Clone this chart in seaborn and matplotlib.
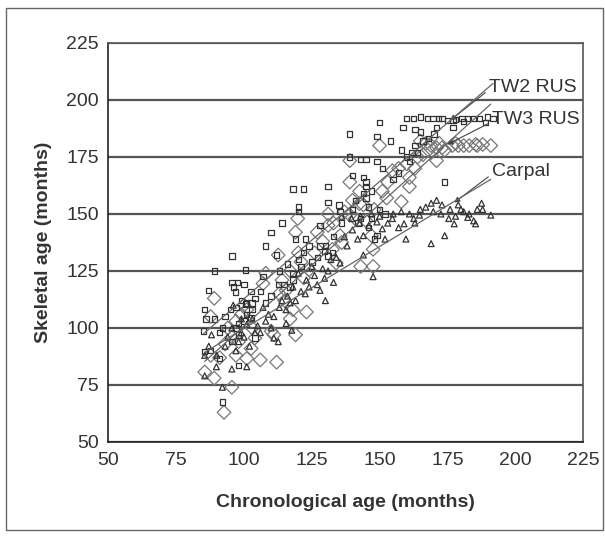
"""Skeletal age vs chronological age scatter (TW2 RUS, TW3 RUS, Carpal)."""
import numpy as np
import matplotlib
matplotlib.use('Agg')
import matplotlib.pyplot as plt
import seaborn as sns
from matplotlib.patches import Rectangle

# --- data (months) ---
tw2_x = [160, 162.6, 165, 167.6, 169.7, 171.8, 173, 178, 180.4, 182.5, 184.7, 186.8, 189.7, 191.8,
         158.6, 163, 165, 171, 170, 177, 181, 189, 175, 177,
         158, 160, 161, 163, 164, 150, 149, 154, 139,
         139, 143, 145, 149, 151, 140, 144, 145, 147, 144, 145, 145, 131, 131, 135, 135.4,
         147, 148, 149, 174, 140, 142, 146,
         118, 122, 120, 120, 114, 110, 128, 130, 108, 112, 119, 122.6, 124, 122, 128, 129.7,
         131, 132.6, 118, 118, 112.6, 114.8, 107, 110, 108,
         95.5, 89, 100.5, 95.5, 97.6, 96, 96.8, 100, 87, 102.6, 101, 103, 97, 100.5, 85.5,
         86, 102.6, 98, 97, 91, 85, 95.5, 104, 87.7, 85.5, 91, 98, 92,
         93, 95, 99, 101, 104, 92, 98, 100, 113, 116, 120, 117, 121, 125, 127, 133,
         136, 141, 143, 146, 150, 152, 155, 157, 162, 166, 168, 103, 106, 89]
tw2_y = [192, 192, 192.5, 192, 192, 192, 192, 191.5, 192, 192, 192, 192, 192.5, 192,
         188, 187, 186, 188, 185, 188, 190.5, 190, 191, 191,
         178, 175, 173, 180, 177, 190, 184, 182, 185,
         175, 174, 174, 173, 170, 167, 166, 164, 160, 159, 162, 157, 162, 155, 154, 151,
         148, 139, 140.5, 164, 152, 146, 153,
         161, 161, 153, 151, 146, 142, 145, 136, 136, 132, 139, 139, 136, 133, 136, 133.8,
         131.5, 133, 124, 121, 119, 119, 122.5, 114, 111,
         131.5, 125, 125.5, 120, 120, 118, 115.8, 119, 116.5, 116, 111, 111, 109, 110.5, 108,
         104, 104.6, 102, 100, 98, 98.6, 94, 95.6, 90, 89.6, 86.6, 83.6, 67.5,
         105, 108, 112, 106, 113, 100, 97, 103, 125, 128, 130, 118, 127, 129, 131, 140,
         146, 156, 148, 144, 152, 150, 165, 168, 177, 182, 183, 108, 116, 104]

tw3_x = [150, 154.7, 164, 167, 169, 171, 173, 176.8, 179, 181, 183, 185.4, 188, 191, 171,
         161, 161, 158, 152.6, 151, 139, 139, 144, 142.6, 142.6, 141, 139, 135.4, 136,
         132.6, 134, 131, 131, 127, 147.6, 143, 147.6, 147, 119.8, 119, 112.6, 121, 124,
         108, 107, 113, 115.5, 118, 123, 119, 111, 110, 112, 106, 101, 95.5, 92.6, 89,
         85.5, 87.7, 91, 89, 87.7, 101, 98, 102.6, 104, 95.5, 97, 165, 174, 178,
         94, 97, 99, 103, 93, 100, 114, 117, 120, 122, 126, 129, 133, 137, 140, 145,
         148, 153, 157, 160, 163, 166, 168, 172, 186, 115, 117]
tw3_y = [180, 169, 175, 181, 180, 179, 179, 180, 180, 180, 180, 180.5, 180.5, 180, 173.4,
         166, 162, 155.4, 157, 160, 173.4, 164, 154, 160, 154.5, 148, 149.5, 140.5, 137.5,
         134.5, 128.5, 145, 150, 142, 134.5, 127, 127, 140.5, 148, 142, 132, 129, 125.5,
         124, 119.5, 115, 116.5, 108, 107, 97, 97, 98.6, 85, 86, 86.6, 74, 63, 78,
         80.7, 88, 87, 113, 105, 108, 94, 91, 95.6, 96, 88, 182, 178, 181,
         100, 103, 106, 100, 93, 110, 121, 125, 133, 122, 133, 138, 146, 151, 156, 147,
         152, 164, 170, 172, 170, 176, 178, 181, 180, 112, 104]

carpal_x = [85.5, 92, 89.8, 95.5, 101, 85.5, 88, 95.5, 98, 101, 104, 106, 111, 112.6, 111,
            115.5, 117.6, 115.5, 117, 121, 124, 128, 130, 133, 135.4, 129.7, 127, 122.6, 114,
            110, 109, 144, 147.6, 141.9, 144, 146, 149, 151, 152, 154.7, 159, 159.7, 162.6,
            164.7, 167, 169, 171, 173, 169.8, 172.6, 175.5, 177.5, 179, 181, 183, 185.4,
            187.6, 191, 169, 174, 158, 182.5, 184.7, 142.6, 139.7, 136, 96, 99, 103, 93,
            107, 120, 125, 131, 137, 155, 165, 180, 186,
            94, 97, 100, 102, 99, 105, 108, 113, 116, 118, 119, 123, 126, 129, 132, 134,
            138, 140, 143, 147, 150, 153, 157, 161, 163, 176, 178, 188, 90, 87]
carpal_y = [79, 74, 83, 82, 83, 88, 97, 100, 94, 101.6, 98, 98, 95.6, 94, 105,
            102, 99, 108, 111, 116, 118, 116.5, 112, 120, 128.5, 121.8, 119, 115, 112,
            100, 106, 132, 122.5, 139, 140.5, 145, 146.5, 143.5, 139, 148, 145.7, 139, 148,
            149.5, 153, 154.7, 156, 154, 151, 150, 148, 145.7, 154, 151, 150, 145.7,
            154.7, 149.5, 137, 140.5, 151, 148.5, 147, 146, 148, 149, 110, 104, 104, 92,
            109, 124, 127, 125, 140, 150, 152, 152, 152,
            96, 90, 96, 92, 98, 101, 103, 109, 114, 118, 112, 121, 123, 126, 130, 131,
            136, 143, 149, 150, 149, 146, 144, 150, 146, 152, 149, 152, 88, 92]

x_ticks = [50, 75, 100, 125, 150, 175, 200, 225]
y_ticks = [50, 75, 100, 125, 150, 175, 200, 225]

TEXT_COL = '#333333'
GRID_COL = '#555555'

sns.set_style('white')
plt.rcParams['font.family'] = ['Liberation Sans', 'DejaVu Sans']

fig = plt.figure(figsize=(6.05, 5.36), dpi=100)
ax = fig.add_axes([0.1793, 0.1754, 0.7843, 0.7444])

# horizontal gridlines only, behind the marks
for yv in y_ticks:
    ax.axhline(yv, color=GRID_COL, lw=1.6, zorder=0)

sns.scatterplot(x=tw2_x, y=tw2_y, marker='s', s=15, facecolor='none',
                edgecolor='#333333', linewidth=0.9, ax=ax, zorder=3)
sns.scatterplot(x=tw3_x, y=tw3_y, marker='D', s=48, facecolor='none',
                edgecolor='#777777', linewidth=0.9, ax=ax, zorder=2)
sns.scatterplot(x=carpal_x, y=carpal_y, marker='^', s=18, facecolor='none',
                edgecolor='#333333', linewidth=0.9, ax=ax, zorder=3)

# linear trend lines
for xs, ys in [(tw2_x, tw2_y), (tw3_x, tw3_y), (carpal_x, carpal_y)]:
    sns.regplot(x=np.array(xs), y=np.array(ys), scatter=False, ci=None, truncate=True,
                line_kws=dict(color='#666666', lw=0.9, zorder=4), ax=ax)

arrow = dict(arrowstyle='-|>', color='#444444', lw=0.8, mutation_scale=8,
             shrinkA=0, shrinkB=0, relpos=(0, 0.35))
ax.annotate('TW2 RUS', xy=(176, 191), xytext=(190.2, 205.5), ha='left', va='center',
            fontsize=14, color=TEXT_COL, arrowprops=arrow)
ax.annotate('TW3 RUS', xy=(175, 180.5), xytext=(191.3, 191.5), ha='left', va='center',
            fontsize=14, color=TEXT_COL, arrowprops=arrow)
ax.annotate('Carpal', xy=(177.5, 155), xytext=(191.3, 168.5), ha='left', va='center',
            fontsize=14, color=TEXT_COL, arrowprops=arrow)

ax.set_xlim(50, 225)
ax.set_ylim(50, 225)
ax.set_xticks(x_ticks)
ax.set_yticks(y_ticks)
ax.tick_params(axis='both', direction='out', length=5, width=1, color='#222222',
               labelsize=14, labelcolor=TEXT_COL, pad=2)
ax.set_xlabel('Chronological age (months)', fontsize=14, fontweight='bold',
              color=TEXT_COL, labelpad=18)
ax.set_ylabel('Skeletal age (months)', fontsize=14, fontweight='bold',
              color=TEXT_COL, labelpad=10)

for side in ['left', 'bottom']:
    ax.spines[side].set_color('#222222')
    ax.spines[side].set_linewidth(1.2)
for side in ['right', 'top']:
    ax.spines[side].set_color(GRID_COL)
    ax.spines[side].set_linewidth(1.2)

# outer frame round the whole chart
fig.patches.append(Rectangle((6 / 605, 6 / 536), 597 / 605, 522 / 536,
                             transform=fig.transFigure, fill=False,
                             edgecolor='#666666', lw=1.0))

fig.savefig('out.png', dpi=100, facecolor='white')
